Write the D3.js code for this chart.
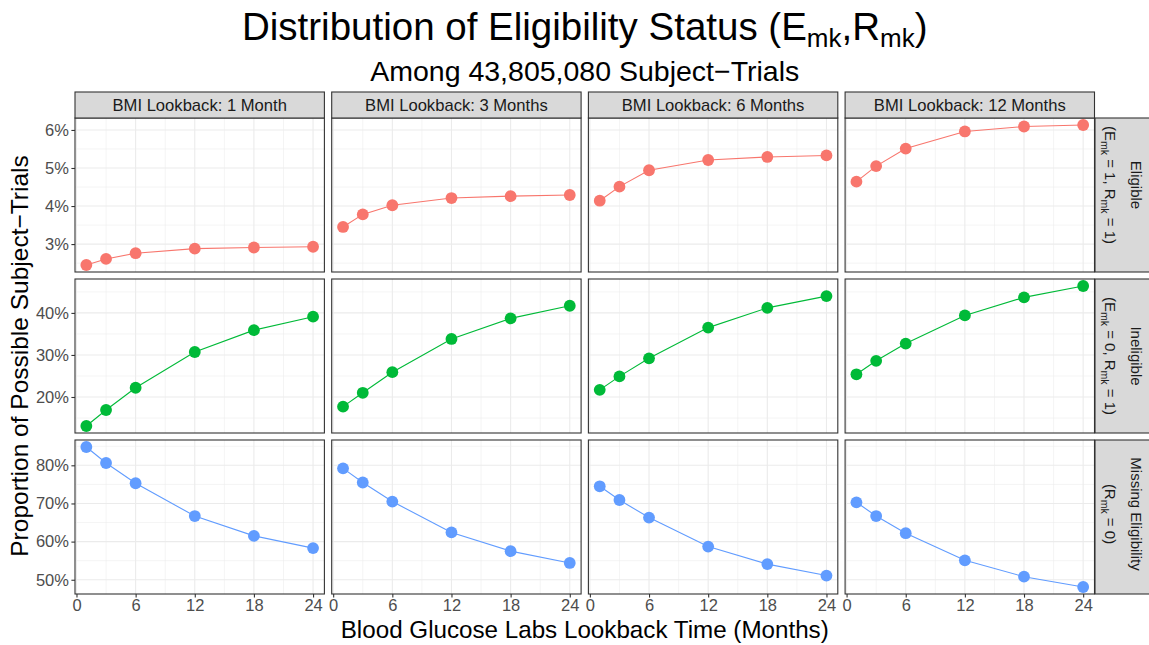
<!DOCTYPE html>
<html>
<head>
<meta charset="utf-8">
<script src="https://cdn.jsdelivr.net/npm/d3@7"></script>
<style>
  html, body { margin: 0; padding: 0; background: #fff; }
  svg { display: block; font-family: "Liberation Sans", Arial, Helvetica, sans-serif; }
</style>
</head>
<body>
<svg id="chart" width="1149" height="645"></svg>
<script>
// ---------------- DATA ----------------
const months = [1, 3, 6, 12, 18, 24];
const xTicks = [0, 6, 12, 18, 24];
const bmiLookbacks = ["BMI Lookback: 1 Month", "BMI Lookback: 3 Months", "BMI Lookback: 6 Months", "BMI Lookback: 12 Months"];
const statuses = ["Eligible", "Ineligible", "Missing Eligibility"];
const statusColors = ["#F8766D", "#00BA38", "#619CFF"];

// percentages, one array per BMI lookback panel (1, 3, 6, 12 months)
const eligible = [
  [2.45, 2.61, 2.76, 2.88, 2.91, 2.93],
  [3.45, 3.78, 4.02, 4.21, 4.26, 4.29],
  [4.14, 4.51, 4.94, 5.21, 5.29, 5.33],
  [4.64, 5.05, 5.51, 5.96, 6.09, 6.13]
];
const ineligible = [
  [13.1, 16.9, 22.2, 30.7, 35.9, 39.1],
  [17.7, 21.0, 25.9, 33.8, 38.7, 41.7],
  [21.7, 24.9, 29.2, 36.5, 41.2, 44.0],
  [25.4, 28.6, 32.7, 39.4, 43.7, 46.4]
];
const missing = [
  [84.8, 80.6, 75.3, 66.7, 61.5, 58.3],
  [79.2, 75.5, 70.5, 62.4, 57.5, 54.4],
  [74.5, 70.9, 66.3, 58.7, 54.1, 51.1],
  [70.3, 66.7, 62.2, 55.1, 50.8, 48.1]
];
const seriesByStatus = [eligible, ineligible, missing];

// ---------------- LAYOUT ----------------
const svg = d3.select("#chart");
const plotLeft = 75, plotRight = 1094.5, colGap = 7.3;
const plotTop = 118, plotBottom = 594, rowGap = 7;
const nCols = bmiLookbacks.length, nRows = statuses.length;
const pw = (plotRight - plotLeft - colGap * (nCols - 1)) / nCols;
const ph = (plotBottom - plotTop - rowGap * (nRows - 1)) / nRows;
const stripH = 26, stripW = 56;
const border = "#333333";
const gridMajor = "#EBEBEB";
const tickColor = "#4D4D4D";
const tickFont = 16.5;
const rightStripShift = [-10, 0, -3];

function expand(ext, mult) {
  const d = (ext[1] - ext[0]) * mult;
  return [ext[0] - d, ext[1] + d];
}

const xDom = expand(d3.extent(months), 0.05);
const x = d3.scaleLinear().domain(xDom).range([0, pw]);
const xMinor = [];
for (let i = 0; i < xTicks.length - 1; i++) xMinor.push((xTicks[i] + xTicks[i + 1]) / 2);

const yScales = seriesByStatus.map(s => {
  const ext = d3.extent(s.flat());
  return d3.scaleLinear().domain(expand(ext, 0.05)).range([ph, 0]);
});

// Title
const title = svg.append("text")
  .attr("x", (plotLeft + plotRight) / 2).attr("y", 40)
  .attr("text-anchor", "middle").attr("font-size", 38.5).attr("fill", "#000");
title.append("tspan").text("Distribution of Eligibility Status (E");
title.append("tspan").attr("font-size", 26).attr("dy", 7).text("mk");
title.append("tspan").attr("dy", -7).text(",R");
title.append("tspan").attr("font-size", 26).attr("dy", 7).text("mk");
title.append("tspan").attr("dy", -7).text(")");

svg.append("text")
  .attr("x", (plotLeft + plotRight) / 2).attr("y", 81)
  .attr("text-anchor", "middle").attr("font-size", 28.5).attr("fill", "#000")
  .text("Among 43,805,080 Subject\u2212Trials");

statuses.forEach((status, r) => {
  const y = yScales[r];
  const yT = y.ticks(4);
  const step = yT[1] - yT[0];
  const yMinor = [];
  for (let v = yT[0] - step / 2; v <= y.domain()[1]; v += step) {
    if (v >= y.domain()[0]) yMinor.push(v);
  }
  bmiLookbacks.forEach((lab, c) => {
    const px = plotLeft + c * (pw + colGap);
    const py = plotTop + r * (ph + rowGap);
    const g = svg.append("g").attr("transform", `translate(${px},${py})`);
    g.append("rect").attr("width", pw).attr("height", ph).attr("fill", "#fff");
    g.selectAll(".ymin").data(yMinor).enter().append("line")
      .attr("x1", 0).attr("x2", pw).attr("y1", d => y(d)).attr("y2", d => y(d))
      .attr("stroke", gridMajor).attr("stroke-width", 0.55);
    g.selectAll(".xmin").data(xMinor).enter().append("line")
      .attr("y1", 0).attr("y2", ph).attr("x1", d => x(d)).attr("x2", d => x(d))
      .attr("stroke", gridMajor).attr("stroke-width", 0.55);
    g.selectAll(".ymaj").data(yT).enter().append("line")
      .attr("x1", 0).attr("x2", pw).attr("y1", d => y(d)).attr("y2", d => y(d))
      .attr("stroke", gridMajor).attr("stroke-width", 1.1);
    g.selectAll(".xmaj").data(xTicks).enter().append("line")
      .attr("y1", 0).attr("y2", ph).attr("x1", d => x(d)).attr("x2", d => x(d))
      .attr("stroke", gridMajor).attr("stroke-width", 1.1);

    const vals = seriesByStatus[r][c];
    const pts = months.map((m, i) => [m, vals[i]]);
    const line = d3.line().x(d => x(d[0])).y(d => y(d[1]));
    g.append("path").datum(pts).attr("d", line)
      .attr("fill", "none").attr("stroke", statusColors[r]).attr("stroke-width", 1.1);
    g.selectAll("circle").data(pts).enter().append("circle")
      .attr("cx", d => x(d[0])).attr("cy", d => y(d[1])).attr("r", 5.9)
      .attr("fill", statusColors[r]);

    g.append("rect").attr("width", pw).attr("height", ph)
      .attr("fill", "none").attr("stroke", border).attr("stroke-width", 1.1);

    if (c === 0) {
      const ax = g.append("g").call(d3.axisLeft(y).tickValues(yT).tickSize(3.6).tickPadding(2.5)
        .tickFormat(d => d + "%"));
      ax.select(".domain").remove();
      ax.selectAll("line").attr("stroke", border).attr("stroke-width", 1.1);
      ax.selectAll("text").attr("font-size", tickFont).attr("fill", tickColor)
        .attr("font-family", "Liberation Sans, Arial, sans-serif");
    }
    if (r === nRows - 1) {
      const ax = g.append("g").attr("transform", `translate(0,${ph})`)
        .call(d3.axisBottom(x).tickValues(xTicks).tickSize(3.6).tickPadding(1.5));
      ax.select(".domain").remove();
      ax.selectAll("line").attr("stroke", border).attr("stroke-width", 1.1);
      ax.selectAll("text").attr("font-size", tickFont).attr("fill", tickColor)
        .attr("font-family", "Liberation Sans, Arial, sans-serif");
    }
    if (r === 0) {
      const sg = svg.append("g").attr("transform", `translate(${px},${plotTop - stripH})`);
      sg.append("rect").attr("width", pw).attr("height", stripH)
        .attr("fill", "#D9D9D9").attr("stroke", border).attr("stroke-width", 1.1);
      sg.append("text").attr("x", pw / 2).attr("y", stripH / 2 + 5.5)
        .attr("text-anchor", "middle").attr("font-size", 16.6).attr("fill", "#1A1A1A")
        .text(lab);
    }
  });

  // right strip
  const py = plotTop + r * (ph + rowGap);
  const sx = plotRight + 0.5;
  const sg = svg.append("g").attr("transform", `translate(${sx},${py})`);
  sg.append("rect").attr("width", stripW).attr("height", ph)
    .attr("fill", "#D9D9D9").attr("stroke", border).attr("stroke-width", 1.1);
  const tg = sg.append("g").attr("transform", `translate(${stripW / 2 + 2},${ph / 2 + rightStripShift[r]}) rotate(90)`);
  tg.append("text").attr("x", 0).attr("y", -6).attr("text-anchor", "middle")
    .attr("font-size", 15).attr("fill", "#1A1A1A").text(status);
  const t2 = tg.append("text").attr("x", 0).attr("y", 20).attr("text-anchor", "middle")
    .attr("font-size", 15).attr("fill", "#1A1A1A");
  const sub = (txt) => { t2.append("tspan").attr("font-size", 10.5).attr("dy", 4).text(txt); };
  const nor = (txt, first) => { t2.append("tspan").attr("dy", first ? 0 : -4).text(txt); };
  if (r === 0) {
    nor("(E", true); sub("mk"); nor(" = 1, R"); sub("mk"); nor(" = 1)");
  } else if (r === 1) {
    nor("(E", true); sub("mk"); nor(" = 0, R"); sub("mk"); nor(" = 1)");
  } else {
    nor("(R", true); sub("mk"); nor(" = 0)");
  }
});

svg.append("text")
  .attr("transform", `translate(28,${(plotTop + plotBottom) / 2}) rotate(-90)`)
  .attr("text-anchor", "middle").attr("font-size", 24.5).attr("fill", "#000")
  .text("Proportion of Possible Subject\u2212Trials");
svg.append("text")
  .attr("x", (plotLeft + plotRight) / 2).attr("y", 638)
  .attr("text-anchor", "middle").attr("font-size", 24.2).attr("fill", "#000")
  .text("Blood Glucose Labs Lookback Time (Months)");
</script>
</body>
</html>
